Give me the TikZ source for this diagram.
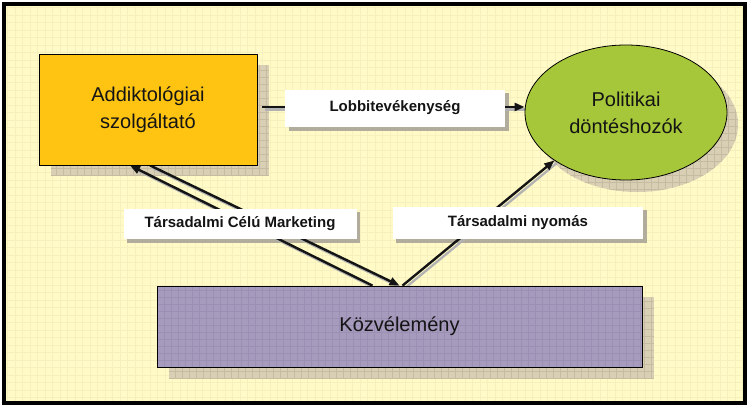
\documentclass[tikz,border=0pt]{standalone}
\usepackage{fontspec}
\setmainfont{Liberation Sans}
\usetikzlibrary{arrows.meta,calc,shapes.geometric}
\pgfdeclarelayer{bg}
\pgfdeclarelayer{mid}
\pgfsetlayers{bg,mid,main}
\definecolor{bgyel}{RGB}{255,250,198}
\definecolor{bggrid}{RGB}{246,240,190}
\definecolor{gold}{RGB}{255,196,18}
\definecolor{olive}{RGB}{166,199,57}
\definecolor{lilac}{RGB}{166,154,189}
\definecolor{lilacgrid}{RGB}{155,143,180}
\definecolor{shadowc}{RGB}{216,207,180}
\definecolor{shadowgrid}{RGB}{198,188,162}
\definecolor{lblshadow}{RGB}{178,172,156}
\definecolor{txt}{RGB}{20,20,20}
\begin{document}
\begin{tikzpicture}[x=1pt,y=-1pt,
  bigbox/.style={draw=black, line width=0.8pt, inner sep=0pt, align=center,
    text=txt, font=\fontsize{20}{27}\selectfont},
  lblbox/.style={fill=white, draw=none, inner sep=0pt, align=center,
    text=txt, font=\bfseries\fontsize{15}{18}\selectfont},
  conn/.style={line width=2.4pt, draw=black!92, -{Triangle[length=10pt,width=8pt]}},
  connshadow/.style={line width=2.3pt, draw=black!30,
    transform canvas={shift={(2.5pt,-2.5pt)}}},
  gridfill/.style={path picture={\draw[#1, line width=0.3pt, step=7pt]
    (path picture bounding box.south west) grid (path picture bounding box.north east);}}
]
\useasboundingbox (0,0) rectangle (750,407);

% background
\begin{pgfonlayer}{bg}
  \fill[bgyel] (4,4) rectangle (745,403);
  \draw[bggrid, line width=0.3pt, step=7.5pt] (4,4) grid (745,403);
\end{pgfonlayer}

% main nodes
\node[bigbox, fill=gold, minimum width=218pt, minimum height=111pt]
  (addikt) at (148,109.5) {Addiktológiai\\szolgáltató};
\node[bigbox, ellipse, fill=olive, minimum width=202pt, minimum height=135pt]
  (polit) at (626,112.5) {Politikai\\döntéshozók};
\node[bigbox, fill=lilac, gridfill=lilacgrid, minimum width=485pt, minimum height=81pt]
  (kozv) at (399.5,326.5) {Közvélemény};

% label boxes
\node[lblbox, minimum width=220pt, minimum height=37pt] (lobbi) at (395,108) {Lobbitevékenység};
\node[lblbox, minimum width=233pt, minimum height=30pt] (market) at (240,224) {Társadalmi Célú Marketing};
\node[lblbox, minimum width=250pt, minimum height=32pt] (nyomas) at (518,223) {Társadalmi nyomás};

% shadows
\begin{pgfonlayer}{bg}
  \fill[shadowc, gridfill=shadowgrid] ([shift={(12,11)}]addikt.south west) rectangle ([shift={(12,11)}]addikt.north east);
  \fill[shadowc, gridfill=shadowgrid] ([shift={(12,11)}]kozv.south west) rectangle ([shift={(12,11)}]kozv.north east);
  \fill[shadowc, gridfill=shadowgrid] ([shift={(11,12)}]polit.center) ellipse [x radius=101pt, y radius=67.5pt];
  \fill[lblshadow] ([shift={(4,4)}]lobbi.south west) rectangle ([shift={(4,4)}]lobbi.north east);
  \fill[lblshadow] ([shift={(3.5,3.5)}]market.south west) rectangle ([shift={(3.5,3.5)}]market.north east);
  \fill[lblshadow] ([shift={(3.5,3.5)}]nyomas.south west) rectangle ([shift={(3.5,3.5)}]nyomas.north east);
\end{pgfonlayer}

% connectors
\coordinate (lobS) at ($(addikt.east)+(5,-2.5)$);
\coordinate (aS) at ([xshift=-27pt]kozv.north);
\coordinate (aE) at ([xshift=-18pt]addikt.south);
\coordinate (bS) at ([xshift=2pt]addikt.south);
\coordinate (nS) at ([xshift=3pt]kozv.north);
\begin{pgfonlayer}{mid}
  \draw[connshadow] (lobS) -- (lobS -| polit.west);
  \draw[connshadow] (aS) -- (aE);
  \draw[connshadow] (bS) -- (kozv.north);
  \draw[connshadow] (nS) -- (polit.south west);
  \draw[conn] (lobS) -- (lobS -| polit.west);
  \draw[conn] (aS) -- (aE);
  \draw[conn] (bS) -- (kozv.north);
  \draw[conn] (nS) -- (polit.south west);
\end{pgfonlayer}

% frame
\draw[black, line width=3.5pt] (4,4) rectangle (745,403);
\end{tikzpicture}
\end{document}
